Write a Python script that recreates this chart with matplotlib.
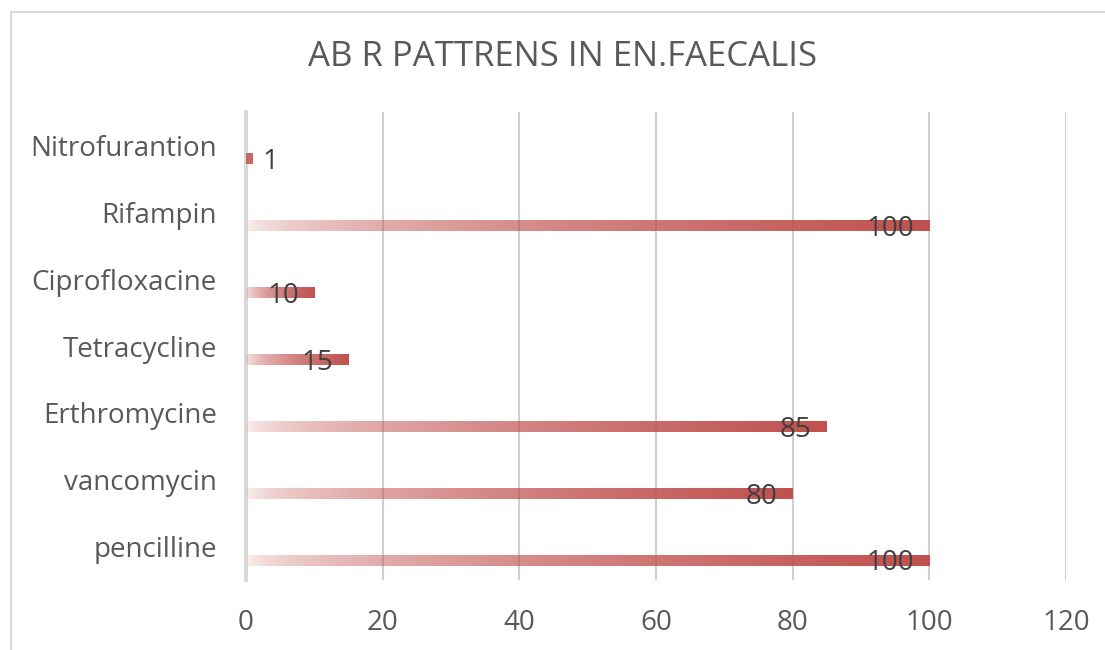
import numpy as np
import matplotlib
matplotlib.use("Agg")
import matplotlib.pyplot as plt
from matplotlib.patches import Rectangle
from matplotlib.colors import to_rgb

plt.rcParams["font.family"] = ["Open Sans", "DejaVu Sans"]

# data (bottom to top)
drugs = ["pencilline", "vancomycin", "Erthromycine", "Tetracycline",
         "Ciprofloxacine", "Rifampin", "Nitrofurantion"]
resistance = [100, 80, 85, 15, 10, 100, 1]
x_ticks = [0, 20, 40, 60, 80, 100, 120]

bar_color = to_rgb("#C0504D")
text_gray = "#595959"
grid_gray = "#CFCFCF"

fig = plt.figure(figsize=(11.05, 6.5), dpi=100)
ax = fig.add_axes([246 / 1105, 1 - 580 / 650, (1066 - 246) / 1105, (580 - 112) / 650])

# chart border
fig.patches.append(Rectangle((11 / 1105, -0.1), 1.2, (650 - 12) / 650 + 0.1,
                             transform=fig.transFigure, fill=False,
                             edgecolor="#D9D9D9", lw=1.5))

offset = -0.21
height = 0.15
for i, v in enumerate(resistance):
    yc = i + offset
    n = 256
    t = np.linspace(0, 1, n)
    img = np.zeros((1, n, 4))
    img[0, :, :3] = bar_color
    img[0, :, 3] = 0.05 + 0.95 * t ** 0.5
    if v < 5:
        img[0, :, 3] = 0.85
    ax.imshow(img, extent=(0, v, yc - height / 2, yc + height / 2),
              aspect="auto", interpolation="bilinear", zorder=3)
    if v < 5:
        ax.annotate(str(v), (v, yc), xytext=(7, -2), textcoords="offset points",
                    ha="left", va="center", fontsize=20, color="#404040", zorder=4)
    else:
        ax.annotate(str(v), (v, yc), xytext=(-11, -2), textcoords="offset points",
                    ha="right", va="center", fontsize=20, color="#404040", zorder=4)

ax.set_xlim(0, 120)
ax.set_ylim(-0.5, len(drugs) - 0.5)
ax.set_xticks(x_ticks)
ax.set_yticks(range(len(drugs)))
ax.set_yticklabels(drugs)
ax.tick_params(axis="both", length=0, labelsize=20, labelcolor=text_gray)
ax.tick_params(axis="y", pad=21)
ax.tick_params(axis="x", pad=21)
ax.grid(axis="x", color=grid_gray, lw=1.5, zorder=0)
ax.set_axisbelow(True)
for s in ["top", "right", "bottom"]:
    ax.spines[s].set_visible(False)
ax.spines["left"].set_color("#D9D9D9")
ax.spines["left"].set_linewidth(3)

fig.text(563 / 1105, 1 - 57 / 650, "AB R PATTRENS IN EN.FAECALIS",
         ha="center", va="center", fontsize=25, color=text_gray)

fig.savefig("out.png", dpi=100)
